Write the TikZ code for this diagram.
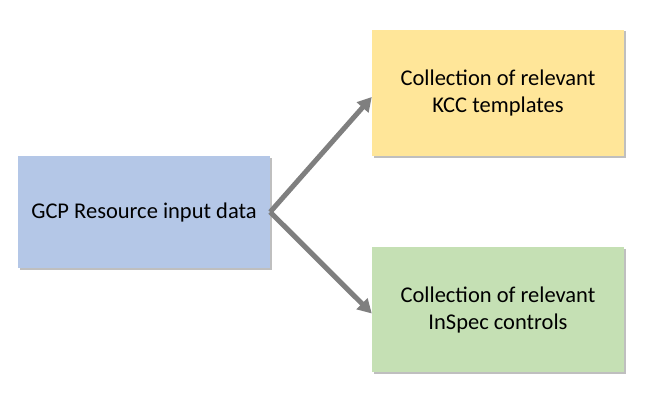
\documentclass[tikz,border=0pt]{standalone}
\usepackage{fontspec}
\setmainfont{Carlito}
\usetikzlibrary{arrows.meta,shadows}
\definecolor{boxblue}{HTML}{B4C7E7}
\definecolor{boxyellow}{HTML}{FFE699}
\definecolor{boxgreen}{HTML}{C5E0B4}
\definecolor{arrowgray}{HTML}{7F7F7F}
\tikzset{
  boxnode/.style={draw=none, minimum width=252pt, minimum height=#1, align=center,
    font=\fontsize{22.5}{27}\selectfont, inner sep=0pt,
    drop shadow={shadow xshift=1.5pt, shadow yshift=-1.5pt, fill=black, opacity=0.25}},
  conn/.style={draw=arrowgray, line width=5pt, -{Triangle[length=14pt,width=15pt]}}
}
\begin{document}
\begin{tikzpicture}[x=1pt,y=1pt]
\useasboundingbox (0,0) rectangle (658,400);
\node[boxnode=112pt, fill=boxblue] (src) at (144,188) {GCP Resource input data};
\node[boxnode=126pt, fill=boxyellow] (kcc) at (498,307) {Collection of relevant\\KCC templates};
\node[boxnode=125pt, fill=boxgreen] (insp) at (498,90.5) {Collection of relevant\\InSpec controls};
\coordinate (split) at (src.east);
\draw[conn] (split) -- ([yshift=-4pt]kcc.west);
\draw[conn] (split) -- ([yshift=-4pt]insp.west);
\end{tikzpicture}
\end{document}
